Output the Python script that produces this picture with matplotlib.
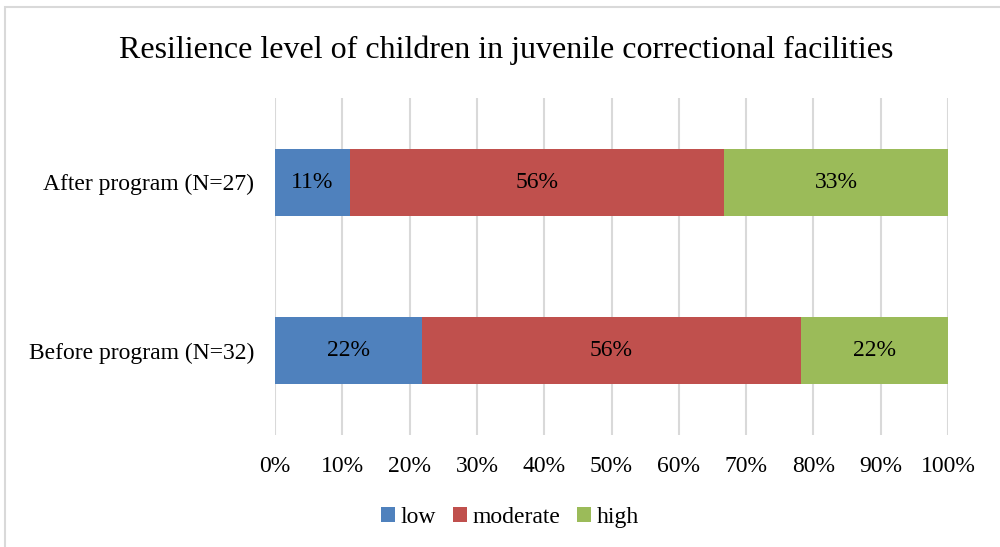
'''
Resilience level of children in juvenile correctional facilities, stacked 100% bars.
'''

import matplotlib.pyplot as plt
from matplotlib.patches import Rectangle

# Dados
groups = ['Before program (N=32)', 'After program (N=27)']
levels = ['low', 'moderate', 'high']
low = [21.9, 11.1]
moderate = [56.2, 55.6]
high = [21.9, 33.3]
labels_low = ['22%', '11%']
labels_moderate = ['56%', '56%']
labels_high = ['22%', '33%']
xticks = [0, 10, 20, 30, 40, 50, 60, 70, 80, 90, 100]

colors = ['#4F81BD', '#C0504D', '#9BBB59']


def main():
	plt.rcParams['font.family'] = ['Liberation Serif', 'DejaVu Serif']

	fig = plt.figure(figsize=(10, 5.47), dpi=100)
	ax = fig.add_axes([0.275, 0.2048, 0.673, 0.616])

	# Moldura do grafico (cortada a direita e embaixo)
	fig.patches.append(Rectangle((0.005, -0.1), 1.1, 0.1 + 0.987,
		transform=fig.transFigure, fill=False, edgecolor='#d9d9d9', lw=1.5))

	ypos = list(range(len(groups)))
	series = [low, moderate, high]
	texts = [labels_low, labels_moderate, labels_high]
	left = [0] * len(groups)
	for vals, lab, col, name in zip(series, texts, colors, levels):
		bars = ax.barh(ypos, vals, left=left, height=0.4, color=col, label=name, zorder=3)
		for b, t in zip(bars, lab):
			ax.text(b.get_x() + b.get_width() / 2, b.get_y() + b.get_height() / 2, t,
				ha='center', va='center', fontsize=17, color='black', zorder=4)
		left = [l + v for l, v in zip(left, vals)]

	ax.set_xlim(0, 100)
	ax.set_ylim(-0.5, 1.5)
	ax.set_xticks(xticks)
	ax.set_xticklabels([f'{t}%' for t in xticks], fontsize=17)
	ax.set_yticks(ypos)
	ax.set_yticklabels(groups, fontsize=17)
	ax.tick_params(axis='both', length=0)
	ax.tick_params(axis='x', pad=15)
	ax.tick_params(axis='y', pad=15)
	ax.grid(axis='x', color='#d9d9d9', lw=1.5, zorder=0)
	for s in ax.spines.values():
		s.set_visible(False)

	fig.text(0.506, 0.908, 'Resilience level of children in juvenile correctional facilities',
		ha='center', va='center', fontsize=23)

	fig.legend(loc='center', bbox_to_anchor=(0.51, 0.054), ncol=3, frameon=False,
		fontsize=17, handlelength=0.6, handleheight=0.6, handletextpad=0.25,
		columnspacing=0.7)

	fig.savefig('out.png', dpi=100)


if __name__ == '__main__':
	main()
